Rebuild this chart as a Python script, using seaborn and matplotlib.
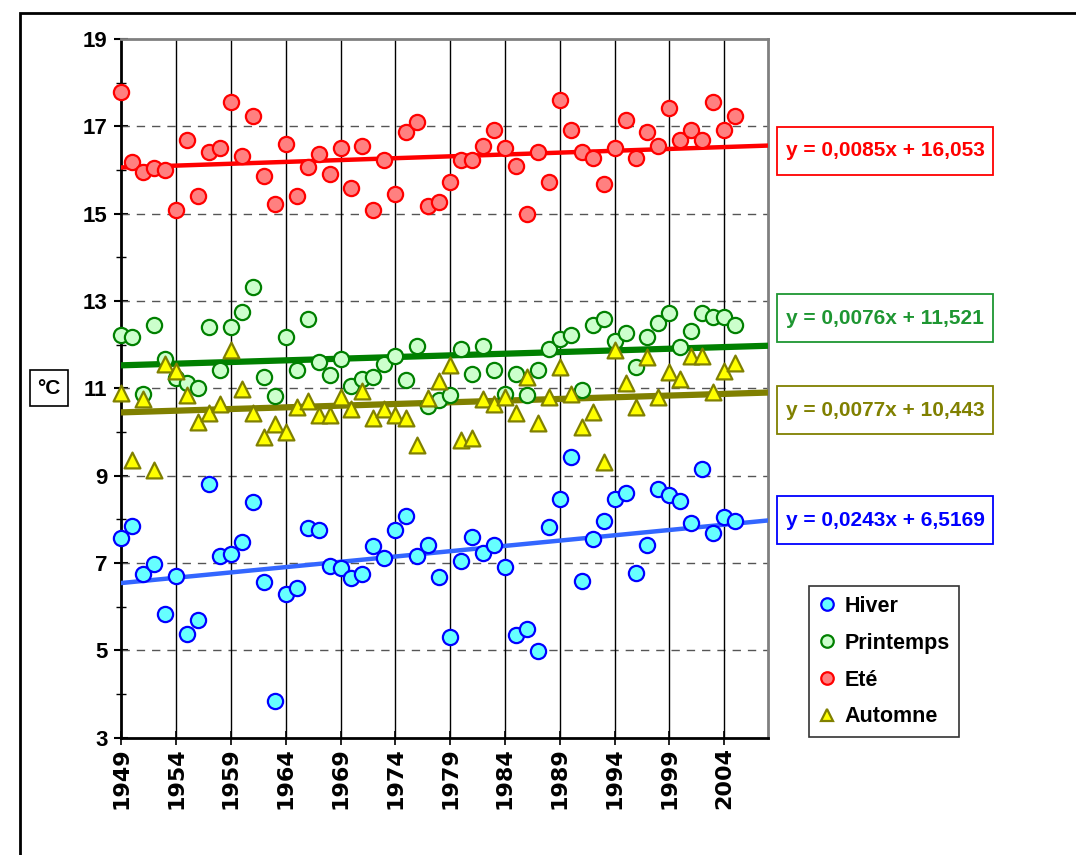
import numpy as np
import pandas as pd
import matplotlib
matplotlib.use("Agg")
import matplotlib.pyplot as plt
from matplotlib.patches import Rectangle
from matplotlib.lines import Line2D
import seaborn as sns

# Seasonal mean temperatures (°C), 1949-2005
years = list(range(1949, 2006))

hiver = [7.58, 7.85, 6.75, 6.98, 5.84, 6.70, 5.38, 5.69, 8.82, 7.17,
         7.21, 7.49, 8.40, 6.57, 3.83, 6.30, 6.43, 7.81, 7.76, 6.94,
         6.89, 6.66, 6.75, 7.40, 7.12, 7.76, 8.08, 7.17, 7.41, 6.67,
         5.31, 7.04, 7.60, 7.22, 7.42, 6.90, 5.34, 5.48, 4.99, 7.82,
         8.46, 9.43, 6.58, 7.55, 7.96, 8.46, 8.60, 6.77, 7.41, 8.69,
         8.56, 8.43, 7.91, 9.15, 7.68, 8.05, 7.96]

printemps = [12.22, 12.17, 10.87, 12.45, 11.67, 11.23, 11.12, 11.02, 12.40, 11.43,
             12.40, 12.74, 13.33, 11.25, 10.83, 12.17, 11.43, 12.60, 11.60, 11.30,
             11.67, 11.05, 11.21, 11.25, 11.57, 11.74, 11.20, 11.98, 10.60, 10.74,
             10.84, 11.91, 11.33, 11.98, 11.43, 10.88, 11.33, 10.84, 11.43, 11.90,
             12.13, 12.22, 10.97, 12.45, 12.59, 12.09, 12.27, 11.48, 12.17, 12.50,
             12.73, 11.94, 12.32, 12.73, 12.63, 12.63, 12.45]

ete = [17.79, 16.18, 15.95, 16.05, 16.00, 15.09, 16.70, 15.41, 16.41, 16.51,
       17.57, 16.32, 17.24, 15.87, 15.23, 16.60, 15.41, 16.08, 16.37, 15.91,
       16.51, 15.59, 16.56, 15.08, 16.23, 15.46, 16.88, 17.11, 15.19, 15.28,
       15.73, 16.23, 16.23, 16.56, 16.92, 16.51, 16.10, 15.00, 16.41, 15.73,
       17.61, 16.92, 16.41, 16.28, 15.69, 16.51, 17.14, 16.28, 16.87, 16.55,
       17.42, 16.70, 16.92, 16.70, 17.57, 16.92, 17.24]

automne = [10.90, 9.37, 10.75, 9.13, 11.55, 11.40, 10.84, 10.24, 10.43, 10.65,
           11.88, 10.99, 10.43, 9.88, 10.19, 10.01, 10.58, 10.72, 10.39, 10.39,
           10.81, 10.53, 10.95, 10.33, 10.53, 10.40, 10.33, 9.70, 10.78, 11.18,
           11.54, 9.82, 9.87, 10.75, 10.65, 10.81, 10.43, 11.27, 10.20, 10.81,
           11.50, 10.88, 10.11, 10.47, 9.31, 11.88, 11.13, 10.57, 11.73, 10.80,
           11.37, 11.21, 11.74, 11.74, 10.92, 11.41, 11.59]

season_names = ["Hiver", "Printemps", "Eté", "Automne"]

# Linear trends (x = rank of the year, 1949 -> 1)
trend_slopes = [0.0243, 0.0076, 0.0085, 0.0077]
trend_intercepts = [6.5169, 11.521, 16.053, 10.443]
trend_labels = ["y = 0,0243x + 6,5169", "y = 0,0076x + 11,521",
                "y = 0,0085x + 16,053", "y = 0,0077x + 10,443"]

year_ticks = list(range(1949, 2005, 5))
temp_ticks = list(range(3, 20, 2))

sns.set_theme(style="white")
plt.rcParams["font.family"] = ["Liberation Sans", "DejaVu Sans"]
plt.rcParams["font.weight"] = "bold"
plt.rcParams["text.color"] = "black"
plt.rcParams["xtick.color"] = "black"
plt.rcParams["ytick.color"] = "black"

W, H = 1076, 855
fig = plt.figure(figsize=(W / 100, H / 100), dpi=100)
fig.patch.set_facecolor("white")

def fx(px):
    return px / W

def fy(py):
    return 1 - py / H

ax = fig.add_axes([fx(121.3), fy(737.6), fx(768) - fx(121.3), fy(39.2) - fy(737.6)])
ax.set_facecolor("white")

df = pd.DataFrame({"Année": years * 4,
                   "Température": hiver + printemps + ete + automne,
                   "Saison": np.repeat(season_names, len(years))})

styles = {
    "Hiver": dict(marker="o", face="#66FFFF", edge="#0000FF"),
    "Printemps": dict(marker="o", face="#CCFFCC", edge="#008000"),
    "Eté": dict(marker="o", face="#FF8080", edge="#FF0000"),
    "Automne": dict(marker="^", face="#FFFF00", edge="#808000"),
}
line_styles = {
    "Hiver": dict(color="#3366FF", lw=3.2),
    "Printemps": dict(color="#008000", lw=4.5),
    "Eté": dict(color="#FF0000", lw=3.2),
    "Automne": dict(color="#808000", lw=4.5),
}

xmin, xmax = 1949, 2008

# Trend lines first, points drawn over them
for name in ["Hiver", "Automne", "Printemps", "Eté"]:
    i = season_names.index(name)
    xs = np.array([xmin, xmax], dtype=float)
    ys = trend_slopes[i] * (xs - 1948) + trend_intercepts[i]
    sns.lineplot(x=xs, y=ys, ax=ax, color=line_styles[name]["color"],
                 lw=line_styles[name]["lw"], zorder=3, legend=False)

for name in ["Hiver", "Printemps", "Eté", "Automne"]:
    st = styles[name]
    sub = df[df["Saison"] == name]
    size = 120 if st["marker"] == "o" else 130
    sns.scatterplot(data=sub, x="Année", y="Température", ax=ax,
                    marker=st["marker"], color=st["face"], edgecolor=st["edge"],
                    linewidth=1.6, s=size, zorder=4, legend=False, clip_on=False)

ax.set_xlim(xmin, xmax)
ax.set_ylim(3, 19)
ax.set_xlabel("")
ax.set_ylabel("")

ax.set_xticks(year_ticks)
ax.set_xticklabels([str(y) for y in year_ticks], rotation=90, fontsize=16,
                   fontweight="bold", color="black", family="DejaVu Sans")
ax.set_yticks(temp_ticks)
ax.set_yticklabels([str(t) for t in temp_ticks], fontsize=16, fontweight="bold",
                   color="black")
ax.set_yticks(list(range(4, 19, 2)), minor=True)

ax.tick_params(axis="y", which="major", direction="inout", length=10, width=1.5,
               color="black", pad=5, left=True)
ax.tick_params(axis="y", which="minor", direction="inout", length=7, width=1,
               color="black", left=True)
ax.tick_params(axis="x", which="major", direction="inout", length=10, width=1.2,
               color="black", pad=2, bottom=True)

# Grid: dashed horizontals at labelled values, solid verticals every 5 years
for t in temp_ticks[1:-1]:
    ax.axhline(t, color="#555555", lw=1.0, ls=(0, (6, 5)), zorder=1)
for yv in year_ticks[1:]:
    ax.axvline(yv, color="black", lw=1.0, zorder=1)

for side in ["left", "bottom"]:
    ax.spines[side].set_color("black")
    ax.spines[side].set_linewidth(2.0)
for side in ["top", "right"]:
    ax.spines[side].set_color("#808080")
    ax.spines[side].set_linewidth(2.0)

# Trend equation boxes
box_centers_y = {"Eté": 151, "Printemps": 318, "Automne": 410, "Hiver": 520}
for name, cy in box_centers_y.items():
    i = season_names.index(name)
    col = line_styles[name]["color"]
    if name == "Hiver":
        col = "#0000FF"
    elif name == "Printemps":
        col = "#1E9632"
    fig.patches.append(Rectangle((fx(777), fy(cy + 24)), fx(993) - fx(777),
                                 fy(cy - 24) - fy(cy + 24),
                                 transform=fig.transFigure, facecolor="white",
                                 edgecolor=col, lw=1.3, zorder=5))
    fig.text(fx(885), fy(cy), trend_labels[i], color=col, fontsize=15,
             fontweight="bold", ha="center", va="center", zorder=6)

# °C label box
fig.patches.append(Rectangle((fx(30), fy(406)), fx(68) - fx(30), fy(370) - fy(406),
                             transform=fig.transFigure, facecolor="white",
                             edgecolor="black", lw=1.2))
fig.text(fx(49), fy(388), "°C", fontsize=15, fontweight="bold", ha="center",
         va="center")

# Legend
handles = []
for name in ["Hiver", "Printemps", "Eté", "Automne"]:
    st = styles[name]
    handles.append(Line2D([0], [0], marker=st["marker"], ls="none",
                          markerfacecolor=st["face"], markeredgecolor=st["edge"],
                          markeredgewidth=1.6, markersize=9))
leg = fig.legend(handles, ["Hiver", "Printemps", "Eté", "Automne"],
                 loc="upper left", bbox_to_anchor=(fx(809), fy(586)),
                 frameon=True, fancybox=False,
                 prop={"weight": "bold", "size": 15.5},
                 labelspacing=0.74, handletextpad=0.4, handlelength=0.8,
                 borderpad=0.45, borderaxespad=0)
leg.get_frame().set_edgecolor("black")
leg.get_frame().set_linewidth(1.2)

# Outer chart frame
fig.patches.append(Rectangle((fx(20), fy(870)), fx(1100) - fx(20), fy(13) - fy(870),
                             transform=fig.transFigure, facecolor="none",
                             edgecolor="black", lw=2.0))

fig.savefig("out.png", dpi=100, facecolor="white")
